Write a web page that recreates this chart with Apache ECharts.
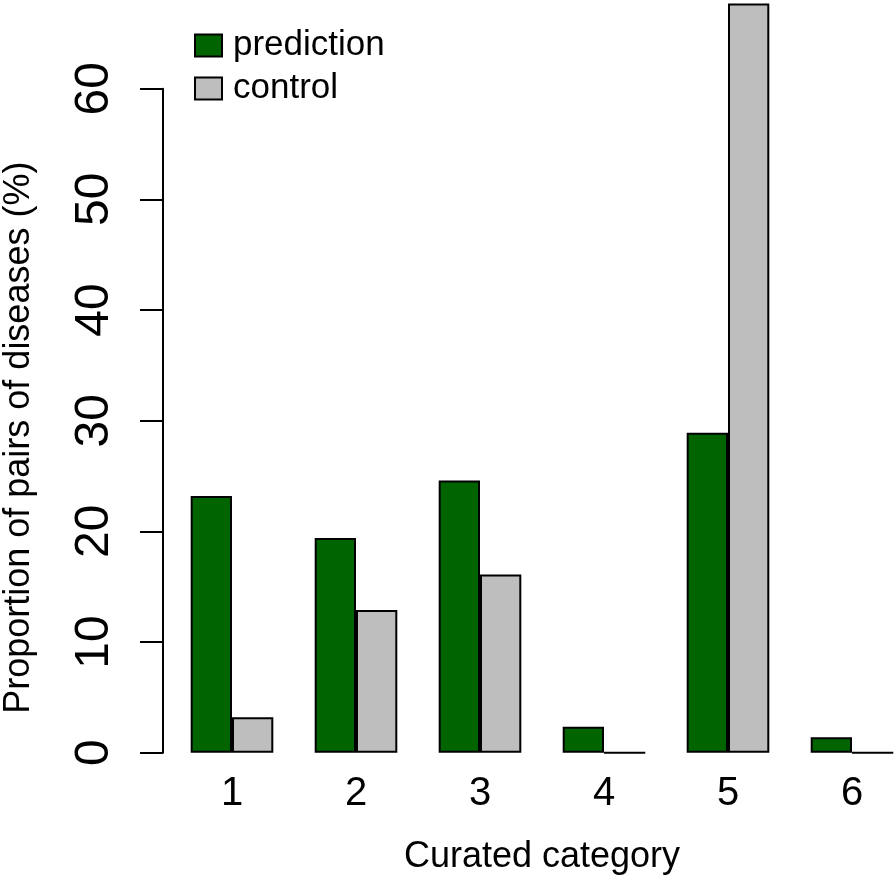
<!DOCTYPE html>
<html>
<head>
<meta charset="utf-8">
<script src="https://cdn.jsdelivr.net/npm/echarts@6/dist/echarts.min.js"></script>
<style>html,body{margin:0;padding:0;background:#fff;}#c{width:896px;height:878px;}</style>
</head>
<body>
<div id="c"></div>
<script>
const categories = ['1', '2', '3', '4', '5', '6'];
const prediction = [23.2, 19.4, 24.6, 2.35, 28.9, 1.4];
const control = [3.2, 12.9, 16.1, 0, 67.7, 0];
const yTicks = [0, 10, 20, 30, 40, 50, 60];
const seriesNames = ['prediction', 'control'];

const FONT = '"Liberation Sans", Arial, Helvetica, sans-serif';
const chart = echarts.init(document.getElementById('c'));
chart.setOption({
  backgroundColor: '#ffffff',
  animation: false,
  textStyle: { fontFamily: FONT, color: '#000' },
  legend: {
    orient: 'vertical',
    left: 189, top: 23,
    itemWidth: 27, itemHeight: 22, itemGap: 8,
    icon: 'rect',
    itemStyle: { borderColor: '#000', borderWidth: 2 },
    textStyle: { fontSize: 35, lineHeight: 24, color: '#000', fontFamily: FONT, padding: [0, 0, 0, 6] },
    data: seriesNames
  },
  grid: { left: 170, width: 744, top: 88.7, bottom: 125.3, containLabel: false, outerBoundsMode: 'none' },
  xAxis: {
    type: 'category',
    data: categories,
    axisLine: { show: false },
    axisTick: { show: false },
    axisLabel: { fontSize: 40, color: '#000', margin: 21, fontFamily: FONT },
    name: 'Curated category',
    nameLocation: 'middle',
    nameGap: 86,
    nameTextStyle: { fontSize: 36, color: '#000', fontFamily: FONT }
  },
  yAxis: {
    type: 'value',
    min: yTicks[0], max: yTicks[yTicks.length - 1], interval: 10,
    offset: 7,
    axisLine: { show: true, lineStyle: { color: '#000', width: 2 } },
    axisTick: { show: true, length: 23, lineStyle: { color: '#000', width: 2 } },
    splitLine: { show: false },
    axisLabel: { fontSize: 48, color: '#000', rotate: 90, margin: 44, fontFamily: FONT },
    name: 'Proportion of pairs of diseases (%)',
    nameLocation: 'middle',
    nameRotate: 90,
    nameGap: 126,
    nameTextStyle: { fontSize: 36, color: '#000', fontFamily: FONT, padding: [0, 34, 0, 0] }
  },
  series: [
    {
      name: seriesNames[0], type: 'bar', data: prediction,
      barWidth: 41.3, barGap: '0%', clip: false,
      itemStyle: { color: '#006400', borderColor: '#000', borderWidth: 2 }
    },
    {
      name: seriesNames[1], type: 'bar', data: control,
      barWidth: 41.3, barGap: '0%', clip: false,
      itemStyle: { color: '#bebebe', borderColor: '#000', borderWidth: 2 }
    }
  ]
});
</script>
</body>
</html>
